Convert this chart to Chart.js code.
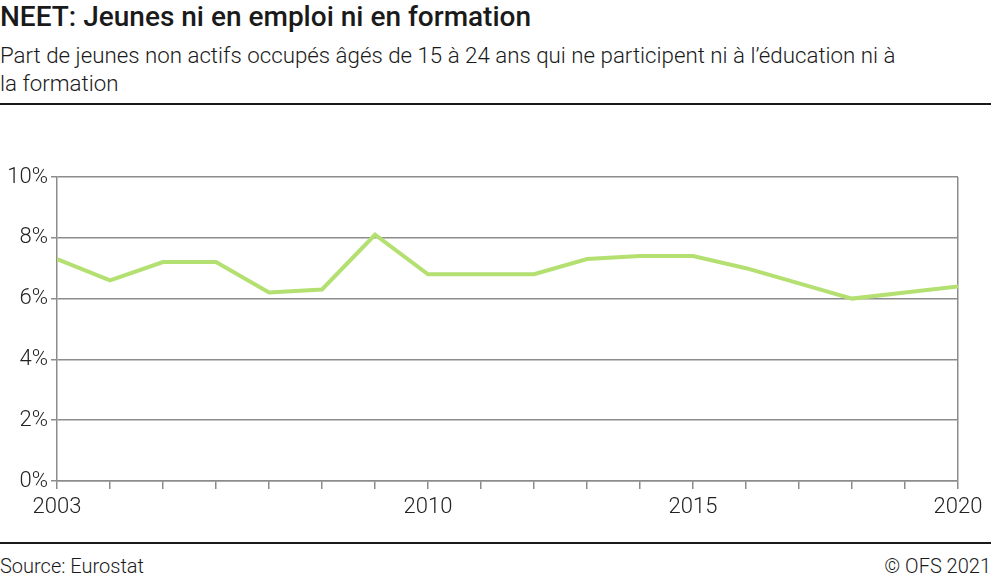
<!DOCTYPE html>
<html>
<head>
    <meta charset="utf-8">
    <title>NEET</title>
    <script src="https://cdn.jsdelivr.net/npm/chart.js@4"></script>
    <style>
        body { margin: 0; width: 991px; height: 580px; background: #fff; font-family: Roboto, sans-serif; color: #1a1a1a; position: relative; overflow: hidden; }
        #title { position: absolute; left: 0; top: 0px; font-size: 28px; font-weight: 500; line-height: 34px; }
        #subtitle { position: absolute; left: 0; top: 41px; width: 915px; font-size: 22.3px; font-weight: 300; line-height: 28px; }
        .rule { position: absolute; left: 0; width: 991px; height: 2px; background: #1a1a1a; }
        #chartBox { position: absolute; left: 0; top: 160px; width: 991px; height: 360px; }
        .foot { position: absolute; top: 554px; font-size: 20px; font-weight: 300; line-height: 24px; }
    </style>
</head>
<body>
    <div id="title">NEET: Jeunes ni en emploi ni en formation</div>
    <div id="subtitle">Part de jeunes non actifs occupés âgés de 15 à 24 ans qui ne participent ni à l’éducation ni à la formation</div>
    <div class="rule" style="top:103px"></div>
    <div id="chartBox"><canvas id="neetChart"></canvas></div>
    <div class="rule" style="top:542px"></div>
    <div class="foot" style="left:0">Source: Eurostat</div>
    <div class="foot" style="right:0">© OFS 2021</div>

    <script>
        // données
        var years = [2003, 2004, 2005, 2006, 2007, 2008, 2009, 2010, 2011, 2012, 2013, 2014, 2015, 2016, 2017, 2018, 2019, 2020];
        var neetShare = [7.3, 6.6, 7.2, 7.2, 6.2, 6.3, 8.1, 6.8, 6.8, 6.8, 7.3, 7.4, 7.4, 7.0, 6.5, 6.0, 6.2, 6.4];
        var labelledYears = [2003, 2010, 2015, 2020];

        var gridGray = '#8c8c8c';
        var points = years.map(function (y, i) { return { x: y, y: neetShare[i] }; });

        var ctx = document.getElementById('neetChart').getContext('2d');
        var neetChart = new Chart(ctx, {
            type: 'line',
            data: {
                datasets: [{
                    data: points,
                    borderColor: '#b3e070',
                    borderWidth: 4,
                    pointRadius: 0,
                    tension: 0,
                    fill: false
                }]
            },
            options: {
                responsive: true,
                maintainAspectRatio: false,
                animation: false,
                layout: { padding: { top: 17, right: 33, left: 0, bottom: 0 } },
                plugins: { legend: { display: false }, tooltip: { enabled: false } },
                scales: {
                    x: {
                        type: 'linear',
                        min: 2003,
                        max: 2020,
                        afterFit: function (s) { s.height = 39; },
                        ticks: {
                            stepSize: 1,
                            autoSkip: false,
                            maxRotation: 0,
                            padding: 5,
                            color: '#222',
                            font: { family: 'Roboto', size: 22, weight: 300 },
                            callback: function (v) { return labelledYears.indexOf(v) >= 0 ? String(v) : ''; }
                        },
                        grid: {
                            color: function (c) { return c.tick && c.tick.value === 2020 ? gridGray : 'rgba(0,0,0,0)'; },
                            tickColor: gridGray,
                            tickLength: 8,
                            lineWidth: 1.5
                        },
                        border: { color: gridGray, width: 1.5 }
                    },
                    y: {
                        min: 0,
                        max: 10,
                        afterFit: function (s) { s.width = 57; },
                        ticks: {
                            stepSize: 2,
                            padding: 3,
                            color: '#222',
                            font: { family: 'Roboto', size: 22, weight: 300 },
                            callback: function (v) { return v + '%'; }
                        },
                        grid: { color: gridGray, tickLength: 6, lineWidth: 1.5 },
                        border: { color: gridGray, width: 1.5 }
                    }
                }
            }
        });
    </script>
</body>
</html>
